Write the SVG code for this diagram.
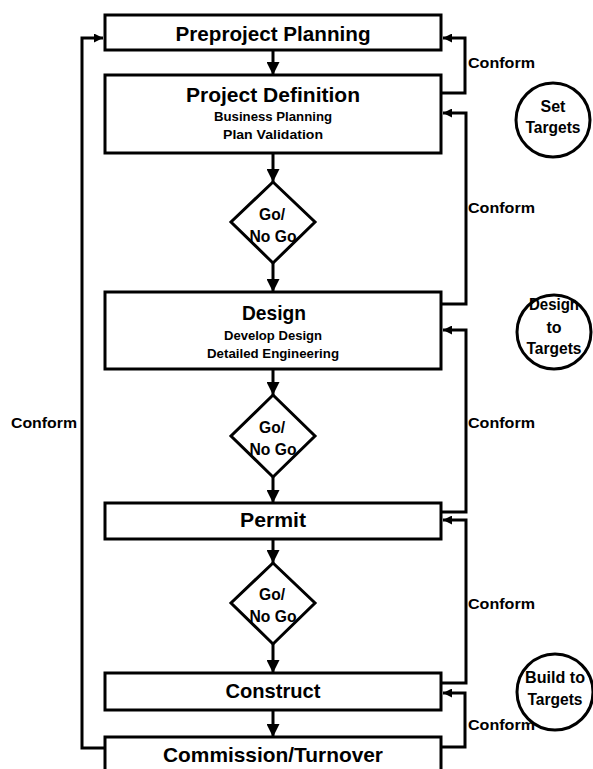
<svg xmlns="http://www.w3.org/2000/svg" width="593" height="769" viewBox="0 0 593 769">
<style>
.box{fill:#fff;stroke:#000;stroke-width:3}
.dia{fill:#fff;stroke:#000;stroke-width:3}
.circ{fill:#fff;stroke:#000;stroke-width:3}
.ln{fill:none;stroke:#000;stroke-width:3}
text{font-family:"Liberation Sans",Arial,sans-serif;font-weight:bold;fill:#000;text-anchor:middle}
.t1{font-size:21px}
.t2{font-size:13px}
.t3{font-size:16px}
.lab{font-size:15px;text-anchor:start}
</style>
<defs>
<marker id="ad" viewBox="0 0 10 10" refX="10" refY="5" markerWidth="13" markerHeight="13" markerUnits="userSpaceOnUse" orient="auto"><path d="M0,0 L10,5 L0,10 z" fill="#000"/></marker>
<marker id="as" viewBox="0 0 10 10" refX="10" refY="5" markerWidth="9" markerHeight="9" markerUnits="userSpaceOnUse" orient="auto"><path d="M0,0 L10,5 L0,10 z" fill="#000"/></marker>
</defs>
<g id="connectors">
<line class="ln" x1="273" y1="50" x2="273" y2="75" marker-end="url(#ad)"/>
<line class="ln" x1="273" y1="153" x2="273" y2="182" marker-end="url(#ad)"/>
<line class="ln" x1="273" y1="263" x2="273" y2="292" marker-end="url(#ad)"/>
<line class="ln" x1="273" y1="369" x2="273" y2="395" marker-end="url(#ad)"/>
<line class="ln" x1="273" y1="477" x2="273" y2="503" marker-end="url(#ad)"/>
<line class="ln" x1="273" y1="539" x2="273" y2="563" marker-end="url(#ad)"/>
<line class="ln" x1="273" y1="644" x2="273" y2="673" marker-end="url(#ad)"/>
<line class="ln" x1="273" y1="710" x2="273" y2="737" marker-end="url(#ad)"/>
<polyline class="ln" points="441,93 465,93 465,38 443,38" marker-end="url(#as)"/>
<polyline class="ln" points="441,304 466,304 466,113 443,113" marker-end="url(#as)"/>
<polyline class="ln" points="441,512 466,512 466,330 443,330" marker-end="url(#as)"/>
<polyline class="ln" points="441,683 466,683 466,520 443,520" marker-end="url(#as)"/>
<polyline class="ln" points="441,747 465,747 465,693 443,693" marker-end="url(#as)"/>
<polyline class="ln" points="105,748 82,748 82,38 103,38" marker-end="url(#as)"/>
<text class="lab" x="468" y="68" textLength="67" lengthAdjust="spacingAndGlyphs">Conform</text>
<text class="lab" x="468" y="213" textLength="67" lengthAdjust="spacingAndGlyphs">Conform</text>
<text class="lab" x="468" y="428" textLength="67" lengthAdjust="spacingAndGlyphs">Conform</text>
<text class="lab" x="468" y="609" textLength="67" lengthAdjust="spacingAndGlyphs">Conform</text>
<text class="lab" x="468" y="730" textLength="67" lengthAdjust="spacingAndGlyphs">Conform</text>
<text class="lab" x="11" y="428" textLength="66" lengthAdjust="spacingAndGlyphs">Conform</text>
</g>
<g id="preproject">
<rect class="box" x="105" y="15" width="336" height="35"/>
<text class="t1" x="273" y="41" textLength="195" lengthAdjust="spacingAndGlyphs">Preproject Planning</text>
</g>
<g id="definition">
<rect class="box" x="105" y="75" width="336" height="78"/>
<text class="t1" x="273" y="102" font-size="20" textLength="174" lengthAdjust="spacingAndGlyphs">Project Definition</text>
<text class="t2" x="273" y="121" textLength="118" lengthAdjust="spacingAndGlyphs">Business Planning</text>
<text class="t2" x="273" y="139" textLength="100" lengthAdjust="spacingAndGlyphs">Plan Validation</text>
</g>
<g id="go1">
<polygon class="dia" points="273,182 315,222 273,263 231,222"/>
<text class="t3" x="272" y="220" textLength="26" lengthAdjust="spacingAndGlyphs">Go/</text>
<text class="t3" x="273" y="242" textLength="47" lengthAdjust="spacingAndGlyphs">No Go</text>
</g>
<g id="design">
<rect class="box" x="105" y="292" width="336" height="77"/>
<text class="t1" x="274" y="320" font-size="20" textLength="64" lengthAdjust="spacingAndGlyphs">Design</text>
<text class="t2" x="273" y="340" textLength="98" lengthAdjust="spacingAndGlyphs">Develop Design</text>
<text class="t2" x="273" y="358" textLength="132" lengthAdjust="spacingAndGlyphs">Detailed Engineering</text>
</g>
<g id="go2">
<polygon class="dia" points="273,395 315,436 273,477 231,436"/>
<text class="t3" x="272" y="433" textLength="26" lengthAdjust="spacingAndGlyphs">Go/</text>
<text class="t3" x="273" y="455" textLength="47" lengthAdjust="spacingAndGlyphs">No Go</text>
</g>
<g id="permit">
<rect class="box" x="105" y="503" width="336" height="36"/>
<text class="t1" x="273" y="527" font-size="20" textLength="66" lengthAdjust="spacingAndGlyphs">Permit</text>
</g>
<g id="go3">
<polygon class="dia" points="273,563 315,603 273,644 231,603"/>
<text class="t3" x="272" y="600" textLength="26" lengthAdjust="spacingAndGlyphs">Go/</text>
<text class="t3" x="273" y="622" textLength="47" lengthAdjust="spacingAndGlyphs">No Go</text>
</g>
<g id="construct">
<rect class="box" x="105" y="673" width="336" height="37"/>
<text class="t1" x="273" y="698" font-size="20" textLength="95" lengthAdjust="spacingAndGlyphs">Construct</text>
</g>
<g id="commission">
<rect class="box" x="105" y="737" width="336" height="40"/>
<text class="t1" x="273" y="762" textLength="220" lengthAdjust="spacingAndGlyphs">Commission/Turnover</text>
</g>
<g id="set-targets">
<circle class="circ" cx="553" cy="120" r="37"/>
<text class="t3" x="553" y="112">Set</text>
<text class="t3" x="553" y="133" textLength="55" lengthAdjust="spacingAndGlyphs">Targets</text>
</g>
<g id="design-targets">
<circle class="circ" cx="554" cy="332" r="37"/>
<text class="t3" x="554" y="310" textLength="50" lengthAdjust="spacingAndGlyphs">Design</text>
<text class="t3" x="554" y="333">to</text>
<text class="t3" x="554" y="354" textLength="55" lengthAdjust="spacingAndGlyphs">Targets</text>
</g>
<g id="build-targets">
<circle class="circ" cx="555" cy="692" r="38"/>
<text class="t3" x="555" y="683" textLength="60" lengthAdjust="spacingAndGlyphs">Build to</text>
<text class="t3" x="555" y="705" textLength="55" lengthAdjust="spacingAndGlyphs">Targets</text>
</g>
</svg>
